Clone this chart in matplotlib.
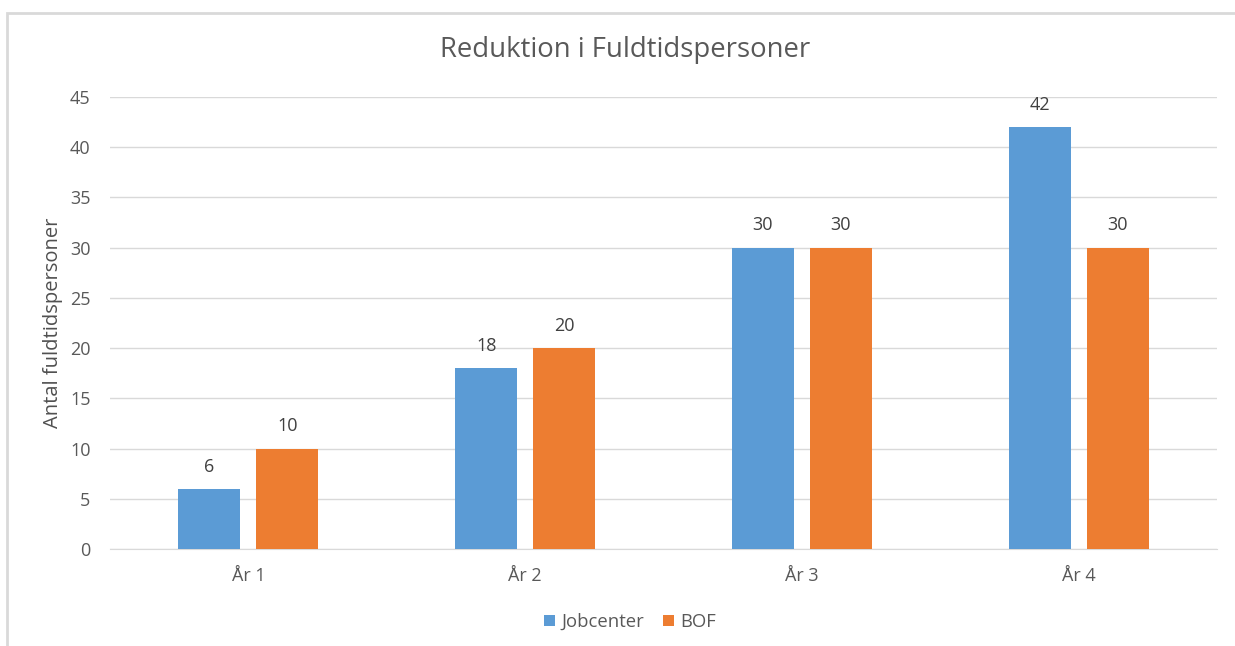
import matplotlib
matplotlib.use("Agg")
import matplotlib.pyplot as plt
from matplotlib.patches import Rectangle
import numpy as np

categories = ["År 1", "År 2", "År 3", "År 4"]
jobcenter = [6, 18, 30, 42]
bof = [10, 20, 30, 30]
series_names = ["Jobcenter", "BOF"]
title = "Reduktion i Fuldtidspersoner"
ylabel = "Antal fuldtidspersoner"
yticks = [0, 5, 10, 15, 20, 25, 30, 35, 40, 45]

plt.rcParams['font.family'] = ['Open Sans', 'DejaVu Sans']
txt = '#595959'

fig = plt.figure(figsize=(12.35, 6.46), dpi=100)
fig.patches.append(Rectangle((7/1235, -0.1), 1.1, 1 - 13/646 + 0.1, transform=fig.transFigure,
                             fill=False, edgecolor='#D9D9D9', linewidth=2))
ax = fig.add_axes([110/1235, 1 - 549/646, (1217-110)/1235, (549-97)/646])

x = np.arange(len(categories))
w = 0.224
off = 0.141
b1 = ax.bar(x - off, jobcenter, w, color='#5B9BD5', label=series_names[0], zorder=3)
b2 = ax.bar(x + off, bof, w, color='#ED7D31', label=series_names[1], zorder=3)
for bars in (b1, b2):
    for r in bars:
        ax.annotate(f"{r.get_height():g}", (r.get_x() + r.get_width()/2, r.get_height()),
                    xytext=(0, 16), textcoords='offset points', ha='center', va='center',
                    fontsize=13, color='#404040')

ax.set_xlim(-0.5, len(categories) - 0.5)
ax.set_ylim(0, 45)
ax.set_yticks(yticks)
ax.set_xticks(x)
ax.set_xticklabels(categories)
ax.yaxis.grid(True, color='#D9D9D9', linewidth=1, zorder=0)
for s in ax.spines.values():
    s.set_visible(False)
ax.spines['bottom'].set_visible(True)
ax.spines['bottom'].set_color('#D9D9D9')
ax.tick_params(axis='both', length=0, labelsize=13, colors=txt)
ax.tick_params(axis='x', pad=13)
ax.tick_params(axis='y', pad=14)
ax.set_ylabel(ylabel, fontsize=14.5, color='#505050', labelpad=5)
fig.text(625/1235, 1 - 50/646, title, ha='center', va='center', fontsize=19.8, color=txt)
fig.legend(loc='center', bbox_to_anchor=(630/1235, 1 - 622/646), ncol=2, frameon=False,
           fontsize=13.3, handlelength=0.6, handleheight=0.6, handletextpad=0.35, columnspacing=1.0,
           labelcolor=txt)
fig.savefig("out.png", dpi=100)
